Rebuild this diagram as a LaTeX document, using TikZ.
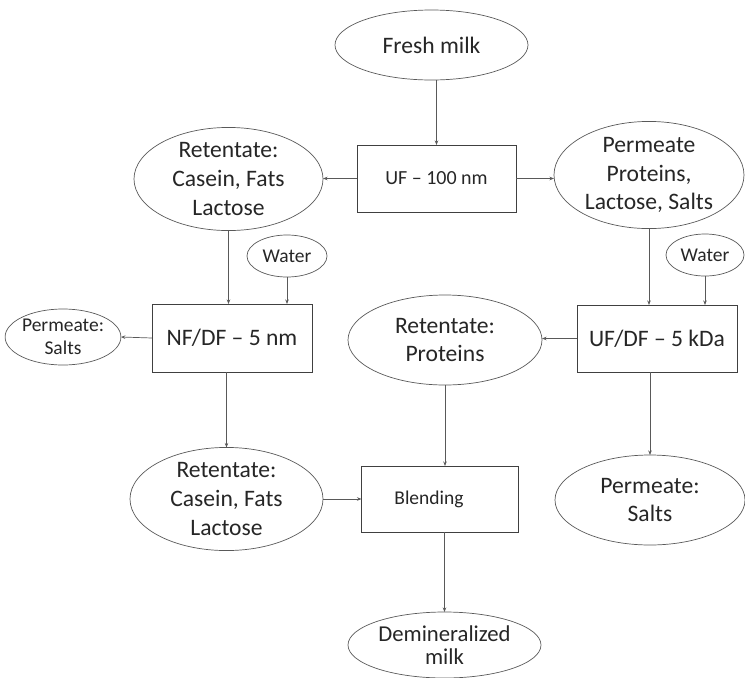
\documentclass[tikz,border=0pt]{standalone}
\usepackage{fontspec}
\setmainfont{Carlito}
\usetikzlibrary{shapes.geometric,arrows.meta}
\tikzset{
  every node/.style={inner sep=0pt, outer sep=0pt, text=black!85},
  ell/.style={ellipse, draw=black!65, line width=0.7pt, align=center},
  box/.style={rectangle, draw=black!75, line width=0.7pt, align=center},
  big/.style={font=\fontsize{23.6}{28.8}\selectfont},
  small/.style={font=\fontsize{19.5}{23.5}\selectfont},
  arr/.style={draw=black!65, line width=0.7pt, -{Stealth[length=4.5pt,width=3.5pt]}},
}
\begin{document}
\begin{tikzpicture}[x=1pt,y=-1pt]
\useasboundingbox (0,0) rectangle (745,678);
% ellipses
\node[ell,big,minimum width=193,minimum height=70] (fresh) at (431.5,45) {Fresh milk};
\node[ell,big,minimum width=189,minimum height=90] (ret1) at (228.5,179) {Retentate:\\Casein, Fats\\Lactose};
\node[ell,big,minimum width=190,minimum height=102] (perm1) at (649,175) {Permeate\\Proteins,\\Lactose, Salts};
\node[ell,small,minimum width=80,minimum height=42] (wl) at (287,256) {Water};
\node[ell,small,minimum width=78,minimum height=42] (wr) at (705,255) {Water};
\node[ell,small,minimum width=110,minimum height=56] (ps) at (63,337) {Permeate:\\Salts};
\node[ell,big,minimum width=194,minimum height=90] (prot) at (445,340) {Retentate:\\Proteins};
\node[ell,big,minimum width=193,minimum height=90] (ret2) at (226.5,499) {Retentate:\\Casein, Fats\\Lactose};
\node[ell,big,minimum width=190,minimum height=90] (ps2) at (650,500) {Permeate:\\Salts};
\node[ell,font=\fontsize{22.7}{23.5}\selectfont,minimum width=193,minimum height=66] (demin) at (444.5,645) {Demineralized\\milk};
% boxes
\node[box,font=\fontsize{20}{24}\selectfont,minimum width=159,minimum height=67] (uf) at (436.5,178.5) {UF -- 100 nm};
\node[box,big,minimum width=160,minimum height=68] (nf) at (232,338) {NF/DF -- 5 nm};
\node[box,big,minimum width=160,minimum height=67] (ufdf) at (657,338.5) {UF/DF -- 5 kDa};
\node[box,small,minimum width=157,minimum height=66] (blend) at (440,499) {Blending\hspace*{22pt}};
% connectors
\draw[arr] (fresh.south -| uf.north) -- (uf.north);
\draw[arr] (uf.west) -- (uf.west -| ret1.east);
\draw[arr] (uf.east) -- (uf.east -| perm1.west);
\draw[arr] (ret1.south) -- (ret1.south |- nf.north);
\draw[arr] (wl.south) -- (wl.south |- nf.north);
\draw[arr] (nf.west) -- (ps.east);
\draw[arr] (perm1.south) -- (perm1.south |- ufdf.north);
\draw[arr] (wr.south) -- (wr.south |- ufdf.north);
\draw[arr] (ufdf.west) -- (ufdf.west -| prot.east);
\draw[arr] (nf.south -| ret2.north) -- (ret2.north);
\draw[arr] (prot.south) -- (prot.south |- blend.north);
\draw[arr] (ret2.east) -- (ret2.east -| blend.west);
\draw[arr] (ufdf.south -| ps2.north) -- (ps2.north);
\draw[arr] (blend.south -| demin.north) -- (demin.north);
\end{tikzpicture}
\end{document}
